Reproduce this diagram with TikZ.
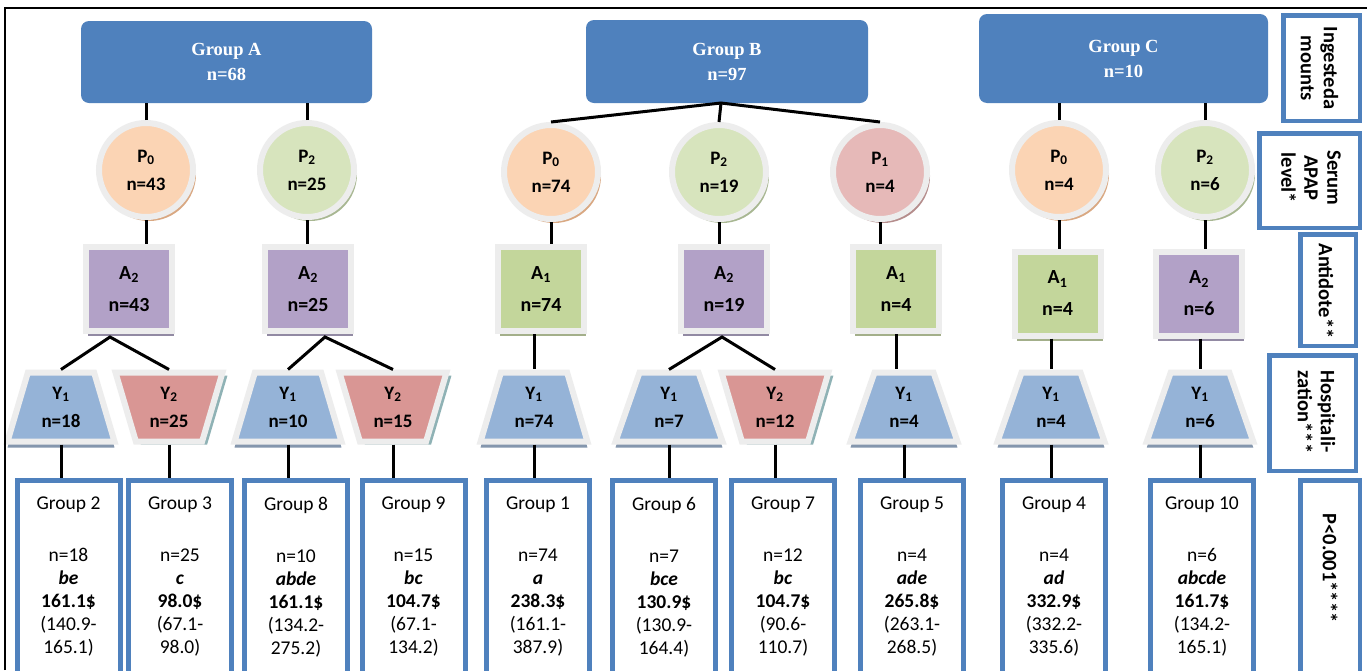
\documentclass[tikz,border=0pt]{standalone}
\usepackage{fontspec}
\setmainfont{Carlito}
\newfontfamily\hdrfont{Liberation Serif}
\usetikzlibrary{shapes.geometric,shadows}
\definecolor{hblue}{HTML}{4F81BD}
\definecolor{ring}{HTML}{EDEDED}
\definecolor{peach}{HTML}{FBD4B4}
\definecolor{peachsh}{HTML}{D9A882}
\definecolor{lgreen}{HTML}{D7E4BD}
\definecolor{lgreensh}{HTML}{A8B792}
\definecolor{pink}{HTML}{E6B9B8}
\definecolor{pinksh}{HTML}{B58D8C}
\definecolor{purp}{HTML}{B2A1C7}
\definecolor{purpsh}{HTML}{928AA3}
\definecolor{agreen}{HTML}{C3D69B}
\definecolor{agreensh}{HTML}{A3AF8A}
\definecolor{yblue}{HTML}{95B3D7}
\definecolor{ybluesh}{HTML}{8496AD}
\definecolor{yred}{HTML}{D99694}
\definecolor{yredsh}{HTML}{8FB2B5}
\begin{document}
\begin{tikzpicture}[x=1pt,y=-1pt,
  header/.style={fill=hblue, rounded corners=8pt, text=white, align=center, inner sep=0pt,
    font=\hdrfont\bfseries\fontsize{18.5}{25}\selectfont},
  pcirc/.style 2 args={circle, minimum size=94pt, inner sep=0pt, line width=6pt, draw=ring, fill=#1,
    drop shadow={shadow xshift=3pt, shadow yshift=-4pt, fill=#2, opacity=1},
    align=center, font=\bfseries\fontsize{19}{28}\selectfont},
  asq/.style 2 args={rectangle, minimum width=86pt, minimum height=84pt, inner sep=0pt, line width=6pt,
    draw=ring, fill=#1, drop shadow={shadow xshift=2pt, shadow yshift=-5pt, fill=#2, opacity=1},
    align=center, font=\bfseries\fontsize{20}{32}\selectfont},
  ytrap/.style={trapezium, trapezium left angle=73.5, trapezium right angle=73.5, trapezium stretches=true,
    minimum width=107pt, minimum height=69pt, inner sep=0pt, line width=6pt, draw=ring,
    align=center, font=\bfseries\fontsize{19}{28}\selectfont},
  yone/.style={ytrap, fill=yblue, drop shadow={shadow xshift=0pt, shadow yshift=-6pt, fill=ybluesh, opacity=1}},
  ytwo/.style={ytrap, shape border rotate=180, fill=yred, drop shadow={shadow xshift=5pt, shadow yshift=-3pt, fill=yredsh, opacity=1}},
  gbox/.style={rectangle, draw=hblue, line width=5pt, minimum width=103pt, minimum height=214pt, inner sep=0pt},
  gtext/.style={anchor=north, align=center, inner sep=0pt, font=\fontsize{19.5}{23}\selectfont},
  lbox/.style={rectangle, draw=hblue, line width=4.5pt, inner sep=0pt},
  ltext/.style={rotate=-90, align=center, inner sep=0pt, font=\bfseries\fontsize{20.5}{23}\selectfont},
  conn/.style={line width=3pt, black}
]
\fill[white] (0,0) rectangle (1367,670);
\useasboundingbox (0,0) rectangle (1367,670);

% headers
\node[header, minimum width=291pt, minimum height=82pt] (hA) at (226.5,62) {Group A\\n=68};
\node[header, minimum width=282pt, minimum height=83pt] (hB) at (727,61.5) {Group B\\n=97};
\node[header, minimum width=289pt, minimum height=89pt] (hC) at (1123.5,58.5) {Group C\\n=10};

% serum level circles
\node[pcirc={peach}{peachsh}] (pA0) at (146,170) {P\textsubscript{0}\\n=43};
\node[pcirc={lgreen}{lgreensh}] (pA2) at (307,170) {P\textsubscript{2}\\n=25};
\node[pcirc={peach}{peachsh}] (pB0) at (551,172) {P\textsubscript{0}\\n=74};
\node[pcirc={lgreen}{lgreensh}] (pB2) at (719,172) {P\textsubscript{2}\\n=19};
\node[pcirc={pink}{pinksh}] (pB1) at (880,172) {P\textsubscript{1}\\n=4};
\node[pcirc={peach}{peachsh}] (pC0) at (1059,170) {P\textsubscript{0}\\n=4};
\node[pcirc={lgreen}{lgreensh}] (pC2) at (1205,170) {P\textsubscript{2}\\n=6};

% antidote squares
\node[asq={purp}{purpsh}] (aA1) at (129,289) {A\textsubscript{2}\\n=43};
\node[asq={purp}{purpsh}] (aA2) at (308,289) {A\textsubscript{2}\\n=25};
\node[asq={agreen}{agreensh}] (aB1) at (541,289) {A\textsubscript{1}\\n=74};
\node[asq={purp}{purpsh}] (aB2) at (724,289) {A\textsubscript{2}\\n=19};
\node[asq={agreen}{agreensh}] (aB3) at (896,289) {A\textsubscript{1}\\n=4};
\node[asq={agreen}{agreensh}] (aC1) at (1057.5,293.5) {A\textsubscript{1}\\n=4};
\node[asq={purp}{purpsh}] (aC2) at (1199,293.5) {A\textsubscript{2}\\n=6};

% hospitalization trapezoids
\node[yone] (y2) at (61,407) {Y\textsubscript{1}\\n=18};
\node[ytwo] (y3) at (169,407) {Y\textsubscript{2}\\n=25};
\node[yone] (y8) at (288,407) {Y\textsubscript{1}\\n=10};
\node[ytwo] (y9) at (393,407) {Y\textsubscript{2}\\n=15};
\node[yone] (y1) at (534,407) {Y\textsubscript{1}\\n=74};
\node[yone] (y6) at (669,407) {Y\textsubscript{1}\\n=7};
\node[ytwo] (y7) at (775,407) {Y\textsubscript{2}\\n=12};
\node[yone] (y5) at (904,407) {Y\textsubscript{1}\\n=4};
\node[yone] (y4) at (1051,407) {Y\textsubscript{1}\\n=4};
\node[yone] (y10) at (1200,407) {Y\textsubscript{1}\\n=6};

% result boxes
\node[gbox] (g2) at (68.5,587.5) {};
\node[gbox] (g3) at (180,587.5) {};
\node[gbox] (g8) at (296,587.5) {};
\node[gbox] (g9) at (413.5,587.5) {};
\node[gbox] (g1) at (538,587.5) {};
\node[gbox] (g6) at (664,587.5) {};
\node[gbox] (g7) at (783,587.5) {};
\node[gbox] (g5) at (912,587.5) {};
\node[gbox] (g4) at (1054,587.5) {};
\node[gbox] (g10) at (1202,587.5) {};

\node[gtext] (t2) at (68.5,497) {Group 2\\[29pt]n=18\\\textbf{\textit{be}}\\\textbf{161.1\$}\\(140.9-\\165.1)};
\node[gtext] (t3) at (180,497) {Group 3\\[29pt]n=25\\\textbf{\textit{c}}\\\textbf{98.0\$}\\(67.1-\\98.0)};
\node[gtext] (t8) at (296,497) {Group 8\\[29pt]n=10\\\textbf{\textit{abde}}\\\textbf{161.1\$}\\(134.2-\\275.2)};
\node[gtext] (t9) at (413.5,497) {Group 9\\[29pt]n=15\\\textbf{\textit{bc}}\\\textbf{104.7\$}\\(67.1-\\134.2)};
\node[gtext] (t1) at (538,497) {Group 1\\[29pt]n=74\\\textbf{\textit{a}}\\\textbf{238.3\$}\\(161.1-\\387.9)};
\node[gtext] (t6) at (664,497) {Group 6\\[29pt]n=7\\\textbf{\textit{bce}}\\\textbf{130.9\$}\\(130.9-\\164.4)};
\node[gtext] (t7) at (783,497) {Group 7\\[29pt]n=12\\\textbf{\textit{bc}}\\\textbf{104.7\$}\\(90.6-\\110.7)};
\node[gtext] (t5) at (912,497) {Group 5\\[29pt]n=4\\\textbf{\textit{ade}}\\\textbf{265.8\$}\\(263.1-\\268.5)};
\node[gtext] (t4) at (1054,497) {Group 4\\[29pt]n=4\\\textbf{\textit{ad}}\\\textbf{332.9\$}\\(332.2-\\335.6)};
\node[gtext] (t10) at (1202,497) {Group 10\\[29pt]n=6\\\textbf{\textit{abcde}}\\\textbf{161.7\$}\\(134.2-\\165.1)};

% right-hand legend
\node[lbox, minimum width=76.5pt, minimum height=105.5pt] (lb1) at (1321.5,68) {};
\node[lbox, minimum width=100.5pt, minimum height=94.5pt] (lb2) at (1309.5,180.5) {};
\node[lbox, minimum width=55.5pt, minimum height=111.5pt] (lb3) at (1328,290) {};
\node[lbox, minimum width=86.5pt, minimum height=115.5pt] (lb4) at (1312.5,413) {};
\node[lbox, minimum width=59.5pt, minimum height=207.5pt] (lb5) at (1330,584) {};
\node[ltext] (l1) at (1319.5,68) {Ingesteda\\mounts};
\node[ltext] (l2) at (1311,178) {Serum\\APAP\\level*};
\node[ltext] (l3) at (1326,291) {Antidote**};
\node[ltext, align=left] (l4) at (1316.5,412) {Hospitali-\\zation***};
\node[ltext] (l5) at (1330,568) {P<0.001****};

% connectors: group A
\draw[conn] (pA0.north) -- (pA0.north |- hA.south);
\draw[conn] (pA2.north) -- (pA2.north |- hA.south);
\draw[conn] (pA0.south) -- (pA0.south |- aA1.north);
\draw[conn] (pA2.south) -- (pA2.south |- aA2.north);
\coordinate (kA1) at (110,337);
\coordinate (kA2) at (325,337);
\draw[conn] (y2.north) -- (kA1) -- (y3 |- y2.north);
\draw[conn] (y8.north) -- (kA2) -- (y9 |- y8.north);

% connectors: group B
\coordinate (kB) at (721,103);
\draw[conn] (pB0.north) -- (kB) -- (pB1.north);
\draw[conn] (kB) -- (pB2.north);
\draw[conn] (pB0.south) -- (pB0.south |- aB1.north);
\draw[conn] (pB2.south) -- (pB2.south |- aB2.north);
\draw[conn] (pB1.south) -- (pB1.south |- aB3.north);
\draw[conn] (y1 |- aB1.south) -- (y1.north);
\coordinate (kB2) at (722,337);
\draw[conn] (y6.north) -- (kB2) -- (y7 |- y6.north);
\draw[conn] (aB3.south) -- (aB3.south |- y5.north);

% connectors: group C
\draw[conn] (pC0.north) -- (pC0.north |- hC.south);
\draw[conn] (pC2.north) -- (pC2.north |- hC.south);
\draw[conn] (pC0.south) -- (pC0.south |- aC1.north);
\draw[conn] (pC2.south) -- (pC2.south |- aC2.north);
\draw[conn] (y4 |- aC1.south) -- (y4.north);
\draw[conn] (y10 |- aC2.south) -- (y10.north);

% connectors: hospitalization to result boxes
\foreach \yy/\gg in {y2/g2, y3/g3, y8/g8, y9/g9, y1/g1, y6/g6, y7/g7, y5/g5, y4/g4, y10/g10}
  \draw[conn] (\yy |- y2.south) -- (\yy |- \gg.north);

% frame
\draw[line width=2pt] (5,670) -- (5,8) -- (1367,8);
\end{tikzpicture}
\end{document}
